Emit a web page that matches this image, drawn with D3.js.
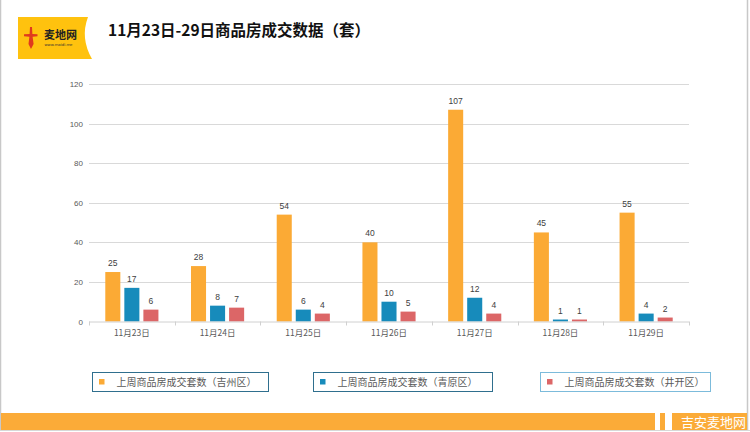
<!DOCTYPE html>
<html>
<head>
<meta charset="utf-8">
<script src="https://cdn.jsdelivr.net/npm/d3@7"></script>
<style>
  html, body { margin: 0; padding: 0; background: #fff; }
  svg { display: block; font-family: "Noto Sans CJK SC", "Noto Sans", sans-serif; }
</style>
</head>
<body>
<svg id="chart" width="750" height="432"></svg>
<script>
// data
const categories = ['11月23日', '11月24日', '11月25日', '11月26日', '11月27日', '11月28日', '11月29日'];
const seriesNames = ['上周商品房成交套数（吉州区）', '上周商品房成交套数（青原区）', '上周商品房成交套数（井开区）'];
const jizhou = [25, 28, 54, 40, 107, 45, 55];
const qingyuan = [17, 8, 6, 10, 12, 1, 4];
const jingkai = [6, 7, 4, 5, 4, 1, 2];
const yTicks = [0, 20, 40, 60, 80, 100, 120];

const COLORS = ['#fbaa35', '#178bbb', '#dc6667'];
const series = [jizhou, qingyuan, jingkai];

const svg = d3.select('#chart');
const W = 750, H = 432;
const plot = { left: 89, right: 689, top: 84, bottom: 321.5 };

// slide frame
svg.append('rect').attr('width', W).attr('height', H).attr('fill', '#fff');
svg.append('line').attr('x1', 0.5).attr('x2', 0.5).attr('y1', 0).attr('y2', 430).attr('stroke', '#c8c8c8').attr('stroke-width', 1.5);
svg.append('line').attr('x1', 747.5).attr('x2', 747.5).attr('y1', 0).attr('y2', 430).attr('stroke', '#c8c8c8').attr('stroke-width', 1.5);
svg.append('line').attr('x1', 0).attr('x2', W).attr('y1', 430.5).attr('y2', 430.5).attr('stroke', '#d8d8d8');

// logo
const logo = svg.append('g').attr('transform', 'translate(18,17)');
logo.append('path')
  .attr('d', 'M0,0 H70 Q62,21 74,42 H0 Z')
  .attr('fill', '#ffc20e');
logo.append('path')
  .attr('d', 'M12,10 L14,10 L14.4,17 L19.5,17.3 L19.5,19.3 L14.6,19.7 L15.6,27 L13,32 L10.5,27 L11.4,19.7 L6,19.3 L6,17.3 L11.6,17 Z')
  .attr('fill', '#e03a1e');
logo.append('text').attr('x', 26).attr('y', 22).attr('font-size', 11).attr('font-weight', 'bold')
  .attr('fill', '#222').text('麦地网');
logo.append('text').attr('x', 26.5).attr('y', 28.5).attr('font-size', 3.8).attr('fill', '#333')
  .attr('font-family', 'DejaVu Sans, sans-serif').text('www.maidi.me');

// title
svg.append('text').attr('x', 108).attr('y', 36).attr('font-size', 15.5).attr('font-weight', 'bold')
  .attr('fill', '#111').text('11月23日-29日商品房成交数据（套）');

// scales
const x0 = d3.scaleBand().domain(categories).range([plot.left, plot.right]).paddingInner(0.38).paddingOuter(0.19);
const x1 = d3.scaleBand().domain(d3.range(series.length)).range([0, x0.bandwidth()]).paddingInner(0.21);
const y = d3.scaleLinear().domain([0, 120]).range([plot.bottom, plot.top]);

// gridlines
svg.append('g').selectAll('line').data(yTicks.filter(t => t > 0)).enter().append('line')
  .attr('x1', plot.left).attr('x2', plot.right)
  .attr('y1', d => Math.round(y(d)) + 0.5).attr('y2', d => Math.round(y(d)) + 0.5)
  .attr('stroke', '#d9d9d9').attr('stroke-width', 1);

// y axis labels
const yAxis = d3.axisLeft(y).tickValues(yTicks).tickSize(0).tickPadding(6);
const gy = svg.append('g').attr('transform', `translate(${plot.left},0)`).call(yAxis);
gy.select('.domain').remove();
gy.selectAll('text').attr('font-size', 8).attr('fill', '#595959').attr('font-family', 'Liberation Sans, Arial, sans-serif');

// bars
const groups = svg.append('g').selectAll('g').data(categories).enter().append('g')
  .attr('transform', d => `translate(${x0(d)},0)`);
series.forEach((vals, si) => {
  groups.append('rect')
    .attr('x', x1(si)).attr('width', x1.bandwidth())
    .attr('y', (d, i) => y(vals[i])).attr('height', (d, i) => y(0) - y(vals[i]))
    .attr('fill', COLORS[si]);
  groups.append('text')
    .attr('x', x1(si) + x1.bandwidth() / 2).attr('y', (d, i) => y(vals[i]) - 6)
    .attr('text-anchor', 'middle').attr('font-size', 8.5).attr('fill', '#404040')
    .attr('font-family', 'Liberation Sans, Arial, sans-serif')
    .text((d, i) => vals[i]);
});

// x axis
const boundaries = d3.range(categories.length + 1).map(i => plot.left + i * (plot.right - plot.left) / categories.length);
svg.append('line').attr('x1', plot.left).attr('x2', plot.right).attr('y1', plot.bottom + 0.5).attr('y2', plot.bottom + 0.5)
  .attr('stroke', '#d0d0d0');
svg.append('g').selectAll('line').data(boundaries).enter().append('line')
  .attr('x1', d => Math.round(d) + 0.5).attr('x2', d => Math.round(d) + 0.5)
  .attr('y1', plot.bottom).attr('y2', plot.bottom + 4).attr('stroke', '#d0d0d0');
svg.append('g').selectAll('text').data(categories).enter().append('text')
  .attr('x', d => x0(d) + x0.bandwidth() / 2).attr('y', plot.bottom + 14)
  .attr('text-anchor', 'middle').attr('font-size', 8.5).attr('fill', '#595959').text(d => d);

// legend
const legendBoxes = [
  { x: 92.5, w: 176, stroke: '#2f6f8e' },
  { x: 313.5, w: 179, stroke: '#2f6f8e' },
  { x: 540.5, w: 170, stroke: '#7cbbdb' }
];
const leg = svg.append('g').selectAll('g').data(seriesNames).enter().append('g')
  .attr('transform', (d, i) => `translate(${legendBoxes[i].x},372.5)`);
leg.append('rect').attr('width', (d, i) => legendBoxes[i].w).attr('height', 19)
  .attr('fill', '#fff').attr('stroke', (d, i) => legendBoxes[i].stroke).attr('stroke-width', 1);
leg.append('rect').attr('x', 6.5).attr('y', 6.5).attr('width', 5.5).attr('height', 5.5)
  .attr('fill', (d, i) => COLORS[i]);
leg.append('text').attr('x', 24).attr('y', 13.3).attr('font-size', 10).attr('fill', '#595959').text(d => d);

// footer band
const footer = svg.append('g');
footer.append('rect').attr('x', 1).attr('y', 413).attr('width', 654).attr('height', 17).attr('fill', '#fbab38');
footer.append('rect').attr('x', 660).attr('y', 413).attr('width', 5).attr('height', 17).attr('fill', '#fbab38');
footer.append('rect').attr('x', 672).attr('y', 413).attr('width', 75).attr('height', 17).attr('fill', '#fbab38');
footer.append('text').attr('x', 681).attr('y', 426.5).attr('font-size', 13).attr('fill', '#fff').text('吉安麦地网');
</script>
</body>
</html>
